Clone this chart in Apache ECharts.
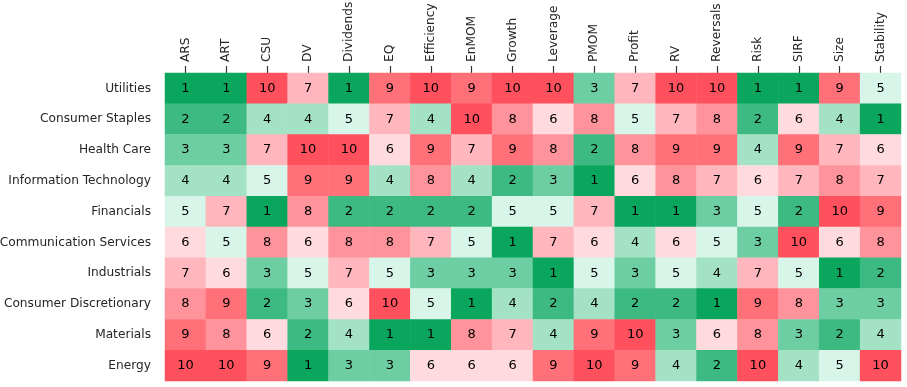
<!DOCTYPE html>
<html><head><meta charset="utf-8">
<script src="https://cdn.jsdelivr.net/npm/echarts@6/dist/echarts.min.js"></script>
<style>html,body{margin:0;padding:0;background:#fff}#c{width:907px;height:387px}</style>
</head><body><div id="c"></div>
<script>
const factors = ["ARS","ART","CSU","DV","Dividends","EQ","Efficiency","EnMOM","Growth","Leverage","PMOM","Profit","RV","Reversals","Risk","SIRF","Size","Stability"];
const sectors = ["Utilities","Consumer Staples","Health Care","Information Technology","Financials","Communication Services","Industrials","Consumer Discretionary","Materials","Energy"];
const utilities = [1,1,10,7,1,9,10,9,10,10,3,7,10,10,1,1,9,5];
const consumerStaples = [2,2,4,4,5,7,4,10,8,6,8,5,7,8,2,6,4,1];
const healthCare = [3,3,7,10,10,6,9,7,9,8,2,8,9,9,4,9,7,6];
const infoTech = [4,4,5,9,9,4,8,4,2,3,1,6,8,7,6,7,8,7];
const financials = [5,7,1,8,2,2,2,2,5,5,7,1,1,3,5,2,10,9];
const commServices = [6,5,8,6,8,8,7,5,1,7,6,4,6,5,3,10,6,8];
const industrials = [7,6,3,5,7,5,3,3,3,1,5,3,5,4,7,5,1,2];
const consumerDisc = [8,9,2,3,6,10,5,1,4,2,4,2,2,1,9,8,3,3];
const materials = [9,8,6,2,4,1,1,8,7,4,9,10,3,6,8,3,2,4];
const energy = [10,10,9,1,3,3,6,6,6,9,10,9,4,2,10,4,5,10];
const rows = [utilities,consumerStaples,healthCare,infoTech,financials,commServices,industrials,consumerDisc,materials,energy];
const rankColors = ["#0aa65e","#3cba81","#6ecea3","#a4e2c5","#d7f5e8","#ffdbdf","#ffb6bc","#ff939b","#ff7079","#ff505d"];

const data = [];
rows.forEach((r, i) => r.forEach((v, j) => data.push([j, i, v])));

const chart = echarts.init(document.getElementById('c'));
const font = 'DejaVu Sans';
chart.setOption({
  animation: false,
  grid: {left: 165, right: 6, top: 73, bottom: 6, outerBoundsMode: 'none', containLabel: false},
  xAxis: {
    type: 'category', data: factors, position: 'top',
    axisLine: {show: false},
    axisTick: {show: true, alignWithLabel: true, length: 7, lineStyle: {color: '#333', width: 1.2}},
    axisLabel: {rotate: -90, color: '#262626', fontFamily: font, fontSize: 12.2, margin: 11, interval: 0},
    splitLine: {show: false}
  },
  yAxis: {
    type: 'category', data: sectors, inverse: true,
    axisLine: {show: false}, axisTick: {show: false},
    axisLabel: {color: '#262626', fontFamily: font, fontSize: 12.2, margin: 14, interval: 0},
    splitLine: {show: false}
  },
  visualMap: {
    show: false, type: 'piecewise', dimension: 2,
    pieces: rankColors.map((c, k) => ({value: k + 1, color: c}))
  },
  series: [{
    type: 'heatmap', data: data,
    label: {show: true, color: '#000', fontFamily: font, fontSize: 13},
    itemStyle: {borderWidth: 0}
  }]
});
</script></body></html>
